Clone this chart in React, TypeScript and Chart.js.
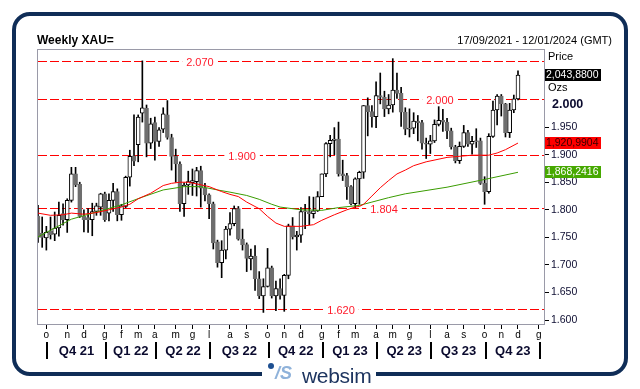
import React, { useEffect, useRef } from 'react';
import { Chart, registerables } from 'chart.js';

Chart.register(...registerables);

// ---- Weekly XAU= candles (index 0 = week of 17/09/2021) ----
const opens = [
  1788, 1758, 1749, 1761, 1756, 1767, 1793, 1782, 1817, 1865,
  1846, 1788, 1786, 1782, 1797, 1805, 1829, 1794, 1817, 1833,
  1791, 1806, 1859, 1898, 1918, 1975, 1984, 1921, 1958, 1924,
  1946, 1972, 1931, 1897, 1883, 1811, 1845, 1849, 1851, 1871,
  1839, 1827, 1811, 1742, 1704, 1727, 1765, 1775, 1802, 1747,
  1737, 1711, 1716, 1675, 1644, 1661, 1695, 1644, 1657, 1645,
  1681, 1771, 1751, 1754, 1797, 1797, 1793, 1798, 1824, 1865,
  1920, 1926, 1928, 1865, 1862, 1842, 1811, 1856, 1868, 1989,
  1978, 1969, 2007, 2004, 1983, 1990, 2017, 2011, 1977, 1946,
  1948, 1961, 1958, 1921, 1919, 1925, 1955, 1962, 1959, 1943,
  1914, 1889, 1915, 1940, 1919, 1924, 1925, 1848, 1833, 1933,
  1981, 2006, 1992, 1940, 1981, 2001,
];
const highs = [
  1808, 1787, 1770, 1787, 1796, 1814, 1811, 1820, 1877, 1877,
  1850, 1800, 1802, 1812, 1812, 1830, 1832, 1829, 1848, 1838,
  1810, 1861, 1908, 1972, 1972, 2070, 1990, 1966, 1968, 1949,
  1985, 1998, 1937, 1910, 1887, 1849, 1870, 1874, 1877, 1879,
  1848, 1829, 1814, 1745, 1744, 1770, 1795, 1807, 1806, 1765,
  1740, 1729, 1735, 1688, 1675, 1730, 1698, 1671, 1675, 1683,
  1774, 1786, 1761, 1804, 1810, 1824, 1823, 1833, 1865, 1922,
  1935, 1949, 1959, 1890, 1866, 1844, 1858, 1870, 1989, 2003,
  1989, 2032, 2048, 2015, 2009, 2074, 2048, 2022, 1985, 1983,
  1976, 1971, 1962, 1930, 1935, 1963, 1987, 1982, 1966, 1948,
  1917, 1923, 1953, 1944, 1933, 1947, 1930, 1860, 1938, 1997,
  2009, 2009, 1993, 1993, 2008, 2052,
];
const lows = [
  1741, 1732, 1727, 1747, 1744, 1752, 1772, 1759, 1814, 1842,
  1786, 1760, 1759, 1753, 1790, 1790, 1779, 1780, 1797, 1780,
  1781, 1804, 1843, 1880, 1887, 1959, 1896, 1911, 1890, 1915,
  1940, 1928, 1872, 1850, 1797, 1788, 1828, 1826, 1825, 1805,
  1816, 1784, 1729, 1696, 1677, 1711, 1754, 1771, 1745, 1727,
  1688, 1691, 1654, 1639, 1614, 1660, 1640, 1617, 1638, 1616,
  1675, 1747, 1727, 1741, 1766, 1773, 1785, 1797, 1824, 1860,
  1896, 1900, 1861, 1853, 1819, 1809, 1804, 1810, 1857, 1934,
  1950, 1949, 1992, 1969, 1974, 1977, 2002, 1951, 1936, 1932,
  1938, 1925, 1910, 1893, 1902, 1922, 1952, 1942, 1929, 1910,
  1885, 1884, 1913, 1915, 1901, 1913, 1846, 1810, 1830, 1931,
  1954, 1970, 1932, 1931, 1976, 1999,
];
const closes = [
  1750, 1750, 1759, 1755, 1767, 1790, 1782, 1817, 1865, 1845,
  1788, 1782, 1782, 1797, 1807, 1829, 1782, 1817, 1833, 1791,
  1807, 1859, 1897, 1888, 1968, 1985, 1921, 1956, 1924, 1945,
  1974, 1931, 1897, 1883, 1811, 1845, 1851, 1853, 1871, 1839,
  1827, 1811, 1740, 1704, 1727, 1765, 1775, 1802, 1747, 1737,
  1712, 1716, 1675, 1644, 1661, 1695, 1644, 1657, 1645, 1681,
  1771, 1751, 1754, 1797, 1798, 1793, 1798, 1824, 1865, 1920,
  1926, 1928, 1865, 1862, 1842, 1811, 1856, 1868, 1989, 1978,
  1969, 2007, 2004, 1983, 1990, 2017, 2011, 1977, 1946, 1948,
  1961, 1958, 1921, 1919, 1925, 1955, 1962, 1959, 1943, 1914,
  1889, 1915, 1940, 1919, 1924, 1925, 1848, 1833, 1933, 1981,
  2006, 1992, 1940, 1981, 2001, 2044,
];

// ---- moving averages (week index -> value) ----
const redMaIdx = [0, 3, 6, 8, 11, 14, 17, 20, 22, 24, 27, 30, 32, 34, 36, 38, 41, 44, 46, 48, 50, 53, 55, 57, 59, 63, 66, 68, 71, 74, 76, 77, 78, 80, 82, 84, 86, 88, 90, 93, 98, 104, 108, 110, 112, 115];
const redMaVal = [1794, 1790, 1791, 1794, 1792, 1795, 1800, 1805, 1810, 1820, 1830, 1844, 1848, 1850, 1850, 1847, 1842, 1833, 1828, 1824, 1814, 1802, 1788, 1776, 1770, 1770, 1773, 1781, 1791, 1800, 1805, 1806, 1810, 1825, 1840, 1853, 1865, 1872, 1880, 1887, 1895, 1899, 1899, 1903, 1909, 1921];
const greenMaIdx = [0, 4, 8, 14, 20, 25, 30, 35, 39, 43, 46, 50, 53, 56, 58, 63, 68, 72, 77, 80, 84, 88, 98, 107, 115];
const greenMaVal = [1751, 1767, 1783, 1796, 1809, 1823, 1836, 1842, 1842, 1836, 1832, 1826, 1819, 1810, 1805, 1800, 1799, 1804, 1808, 1814, 1822, 1829, 1841, 1855, 1868];

// ---- axes ----
const monthTickIdx = [2, 7, 11, 16, 20, 24, 28, 33, 37, 41, 46, 50, 55, 59, 63, 68, 72, 76, 81, 85, 89, 94, 98, 102, 107, 111, 115, 120];
const monthLabels = ['o', 'n', 'd', 'g', 'f', 'm', 'a', 'm', 'g', 'l', 'a', 's', 'o', 'n', 'd', 'g', 'f', 'm', 'a', 'm', 'g', 'l', 'a', 's', 'o', 'n', 'd', 'g'];
const quarterStartIdx = [2, 16, 28, 41, 55, 68, 81, 94, 107, 120];
const quarterLabels = ['Q4 21', 'Q1 22', 'Q2 22', 'Q3 22', 'Q4 22', 'Q1 23', 'Q2 23', 'Q3 23', 'Q4 23'];
const yTickValues = [1600, 1650, 1700, 1750, 1800, 1850, 1900, 1950];
const yRoundLevel = 2000;
const yRoundLabel = '2.000';

// ---- horizontal levels ----
const levels = [2070, 2000, 1900, 1804, 1620];
const levelLabels = ['2.070', '2.000', '1.900', '1.804', '1.620'];

// ---- last values ----
const lastPrice = 2043.88;
const lastRedMa = 1920.9904;
const lastGreenMa = 1868.2416;

const FONT = '"Liberation Sans", Arial, sans-serif';
const levelLabelAt = [38.8, 96.3, 48.9, 82.9, 72.6];

const fmtTick = (v: number) => {
  const s = String(Math.round(v));
  return s.slice(0, s.length - 3) + '.' + s.slice(s.length - 3);
};
const fmtBox = (v: number) => {
  const [i, d] = v.toFixed(4).split('.');
  return i.replace(/\B(?=(\d{3})+(?!\d))/g, ',') + ',' + d;
};

const decor = {
  id: 'decor',
  beforeDatasetsDraw(chart: any) {
    const { ctx, chartArea: a, scales } = chart;
    const xs = scales.x;
    const ys = scales.y;
    ctx.save();
    ctx.globalAlpha = 1;
    ctx.fillStyle = '#ff0000';
    const dash = 9;
    const gap = 3;
    levels.forEach((v) => {
      const py = Math.round(ys.getPixelForValue(v));
      for (let x0 = a.left + 1; x0 < a.right; x0 += dash + gap) {
        ctx.fillRect(x0, py, Math.min(dash, a.right - x0), 1);
      }
    });
    ctx.font = '11px ' + FONT;
    ctx.textAlign = 'center';
    ctx.textBaseline = 'middle';
    levels.forEach((v, k) => {
      const py = Math.round(ys.getPixelForValue(v)) + 0.5;
      const px = xs.getPixelForValue(levelLabelAt[k]);
      const w = ctx.measureText(levelLabels[k]).width + 8;
      ctx.fillStyle = '#fff';
      ctx.fillRect(px - w / 2, py - 6, w, 12);
      ctx.fillStyle = '#ff1a2a';
      ctx.fillText(levelLabels[k], px, py + 1);
    });
    ctx.restore();
  },
  afterDraw(chart: any) {
    const { ctx, chartArea: a, scales } = chart;
    const xs = scales.x;
    const ys = scales.y;
    ctx.save();
    // plot frame
    ctx.strokeStyle = '#9a9aa8';
    ctx.lineWidth = 1;
    ctx.strokeRect(a.left + 0.5, a.top + 0.5, a.right - a.left, a.bottom - a.top);
    // quarter separators and labels
    ctx.fillStyle = '#000';
    quarterStartIdx.forEach((q) => {
      const px = Math.round(xs.getPixelForValue(q));
      ctx.fillRect(px, a.bottom + 18, 2, 17);
    });
    ctx.font = 'bold 13px ' + FONT;
    ctx.textAlign = 'center';
    ctx.textBaseline = 'middle';
    ctx.fillStyle = '#0a0a2e';
    quarterLabels.forEach((t, k) => {
      const px = (xs.getPixelForValue(quarterStartIdx[k]) + xs.getPixelForValue(quarterStartIdx[k + 1])) / 2 + 1;
      ctx.fillText(t, px, a.bottom + 27);
    });
    // right side labels
    ctx.textAlign = 'left';
    ctx.fillStyle = '#000';
    ctx.font = '11px ' + FONT;
    ctx.fillText('Price', a.right + 4, a.top + 8);
    ctx.fillText('Ozs', a.right + 4, a.top + 39);
    ctx.font = 'bold 12.5px ' + FONT;
    ctx.fillStyle = '#0a0a2e';
    ctx.fillText(yRoundLabel, a.right + 8, ys.getPixelForValue(yRoundLevel) + 5);
    const boxes: [number, string, string][] = [
      [lastPrice, '#000000', '#ffffff'],
      [lastRedMa, '#ff0000', '#3a0000'],
      [lastGreenMa, '#46a800', '#ffffff'],
    ];
    ctx.font = '10.5px ' + FONT;
    boxes.forEach(([v, bg, fg]) => {
      const py = Math.round(ys.getPixelForValue(v));
      ctx.fillStyle = bg;
      ctx.fillRect(a.right + 1, py - 6, 56, 12);
      ctx.fillStyle = fg;
      ctx.fillText(fmtBox(v), a.right + 2, py + 0.5);
    });
    ctx.restore();
  },
};

export default function App() {
  const ref = useRef<HTMLCanvasElement>(null);
  useEffect(() => {
    if (!ref.current) return;
    Chart.defaults.font.family = FONT;
    const idx = opens.map((_, i) => i);
    const up = idx.map((i) => closes[i] >= opens[i]);
    const chart = new Chart(ref.current, {
      type: 'bar',
      data: {
        datasets: [
          {
            type: 'line',
            label: 'MA red',
            data: redMaIdx.map((x, k) => ({ x, y: redMaVal[k] })),
            borderColor: '#ff0000',
            borderWidth: 1,
            pointRadius: 0,
            tension: 0,
            order: 0,
          } as any,
          {
            type: 'line',
            label: 'MA green',
            data: greenMaIdx.map((x, k) => ({ x, y: greenMaVal[k] })),
            borderColor: '#3a9c00',
            borderWidth: 1,
            pointRadius: 0,
            tension: 0,
            order: 0,
          } as any,
          {
            type: 'bar',
            label: 'body',
            data: idx.map((i) => ({ x: i, y: [opens[i], closes[i]] })),
            backgroundColor: up.map((u) => (u ? '#ffffff' : '#6e6e6e')),
            borderColor: up.map((u) => (u ? '#000000' : '#6e6e6e')),
            borderWidth: 1,
            borderSkipped: false,
            barThickness: 4,
            grouped: false,
            order: 1,
          } as any,
          {
            type: 'bar',
            label: 'wick',
            data: idx.map((i) => ({ x: i, y: [lows[i], highs[i]] })),
            backgroundColor: '#000000',
            borderWidth: 0,
            barThickness: 1,
            grouped: false,
            order: 2,
          } as any,
        ],
      },
      options: {
        animation: false,
        responsive: false,
        maintainAspectRatio: false,
        events: [],
        layout: { padding: { left: 37, top: 49, right: 0, bottom: 0 } },
        plugins: { legend: { display: false }, tooltip: { enabled: false } },
        scales: {
          x: {
            type: 'linear',
            min: -0.24,
            max: 121.23,
            offset: false,
            afterBuildTicks: (s: any) => {
              s.ticks = monthTickIdx.map((v) => ({ value: v }));
            },
            afterFit: (s: any) => {
              s.height = 65;
            },
            ticks: {
              autoSkip: false,
              maxRotation: 0,
              padding: 0,
              color: '#000',
              font: { size: 10, family: FONT },
              callback: (_v: any, i: number) => monthLabels[i],
            },
            grid: { drawOnChartArea: false, drawTicks: true, tickLength: 5, color: '#000', offset: false },
            border: { display: false },
          },
          y: {
            type: 'linear',
            position: 'right',
            min: 1593,
            max: 2091.5,
            afterBuildTicks: (s: any) => {
              s.ticks = yTickValues.map((v) => ({ value: v }));
            },
            afterFit: (s: any) => {
              s.width = 96;
            },
            ticks: {
              padding: 2,
              color: '#0c0c30',
              font: { size: 10.5, family: FONT },
              callback: (v: any) => fmtTick(Number(v)),
            },
            grid: { drawOnChartArea: false, drawTicks: true, tickLength: 5, color: '#000' },
            border: { display: false },
          },
        },
      } as any,
      plugins: [decor],
    });
    return () => chart.destroy();
  }, []);

  return (
    <div
      style={{
        position: 'fixed',
        left: 0,
        top: 0,
        width: 640,
        height: 389,
        background: '#fff',
        overflow: 'hidden',
        fontFamily: FONT,
      }}
    >
      <canvas ref={ref} width={640} height={389} style={{ position: 'absolute', left: 0, top: 0, width: 640, height: 389 }} />
      <div
        style={{
          position: 'absolute',
          left: 12,
          top: 12,
          width: 616,
          height: 364,
          border: '4px solid #0f2d57',
          borderRadius: 18,
          boxSizing: 'border-box',
          pointerEvents: 'none',
        }}
      />
      <div style={{ position: 'absolute', left: 37, top: 33, fontSize: 12, fontWeight: 'bold', color: '#000', whiteSpace: 'nowrap' }}>
        Weekly XAU=
      </div>
      <div style={{ position: 'absolute', right: 28, top: 34, fontSize: 11, color: '#000', whiteSpace: 'nowrap' }}>
        17/09/2021 - 12/01/2024 (GMT)
      </div>
      <div style={{ position: 'absolute', left: 262, top: 358, width: 114, height: 28, background: '#fff' }}>
        <div style={{ position: 'absolute', left: 6, top: 5, width: 6, height: 6, borderRadius: 3, background: '#1d4f91' }} />
        <div
          style={{
            position: 'absolute',
            left: 13,
            top: 5,
            fontSize: 18,
            lineHeight: '20px',
            fontStyle: 'italic',
            fontWeight: 'bold',
            color: '#8fb2da',
            whiteSpace: 'nowrap',
          }}
        >
          /S
        </div>
        <div
          style={{
            position: 'absolute',
            left: 40,
            top: 7,
            fontSize: 21,
            lineHeight: '21px',
            color: '#1e3560',
            whiteSpace: 'nowrap',
            letterSpacing: -0.3,
          }}
        >
          websim
        </div>
      </div>
    </div>
  );
}
